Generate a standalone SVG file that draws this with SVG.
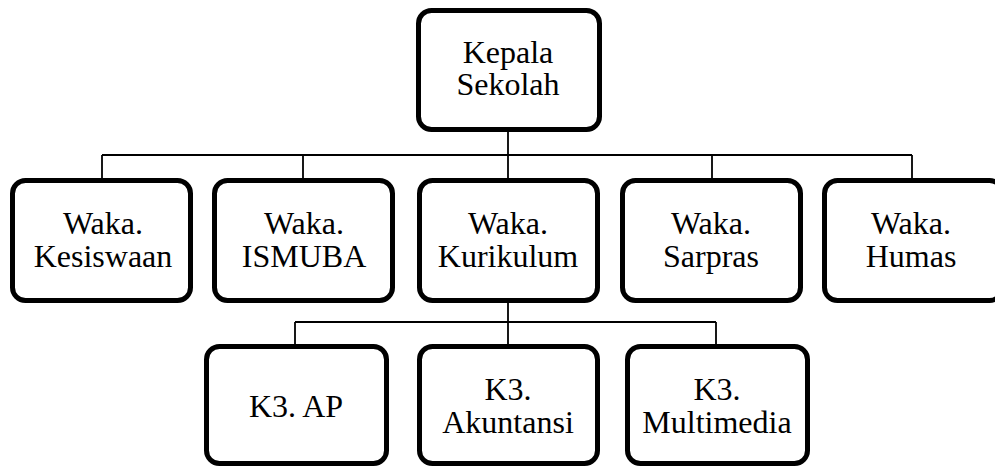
<svg xmlns="http://www.w3.org/2000/svg" width="995" height="468" viewBox="0 0 995 468">
<style>
.box{fill:#fff;stroke:#000;stroke-width:5}
.ln{fill:none;stroke:#000;stroke-width:1.8}
text{font-family:"Liberation Serif","Times New Roman",serif;font-size:32px;fill:#000;text-anchor:middle}
</style>
<rect width="995" height="468" fill="#fff"/>
<g id="connectors">
<path class="ln" d="M508 131V178M102 155H912M102 155V180M303 155V180M712 155V180M912 155V180"/>
<path class="ln" d="M508 302V345M295 322H716M295 322V345M716 322V345"/>
</g>
<g id="kepala"><rect class="box" x="418.5" y="10.5" width="181" height="119" rx="13"/><text x="508" y="63">Kepala</text><text x="508" y="95">Sekolah</text></g>
<g id="kesiswaan"><rect class="box" x="12.5" y="180.5" width="178" height="120" rx="13"/><text x="103" y="234">Waka.</text><text x="103" y="267">Kesiswaan</text></g>
<g id="ismuba"><rect class="box" x="214.5" y="180.5" width="178" height="120" rx="13"/><text x="304" y="234">Waka.</text><text x="304" y="267">ISMUBA</text></g>
<g id="kurikulum"><rect class="box" x="419.5" y="180.5" width="178" height="120" rx="13"/><text x="508" y="234">Waka.</text><text x="508" y="267">Kurikulum</text></g>
<g id="sarpras"><rect class="box" x="622.5" y="180.5" width="178" height="120" rx="13"/><text x="711" y="234">Waka.</text><text x="711" y="267">Sarpras</text></g>
<g id="humas"><rect class="box" x="824.5" y="180.5" width="178" height="120" rx="13"/><text x="911" y="234">Waka.</text><text x="911" y="267">Humas</text></g>
<g id="ap"><rect class="box" x="206.5" y="346.5" width="180" height="117" rx="13"/><text x="296" y="417">K3. AP</text></g>
<g id="akuntansi"><rect class="box" x="419.5" y="346.5" width="178" height="117" rx="13"/><text x="508" y="400">K3.</text><text x="508" y="433">Akuntansi</text></g>
<g id="multimedia"><rect class="box" x="627.5" y="346.5" width="180" height="117" rx="13"/><text x="717" y="400">K3.</text><text x="717" y="433">Multimedia</text></g>
</svg>
